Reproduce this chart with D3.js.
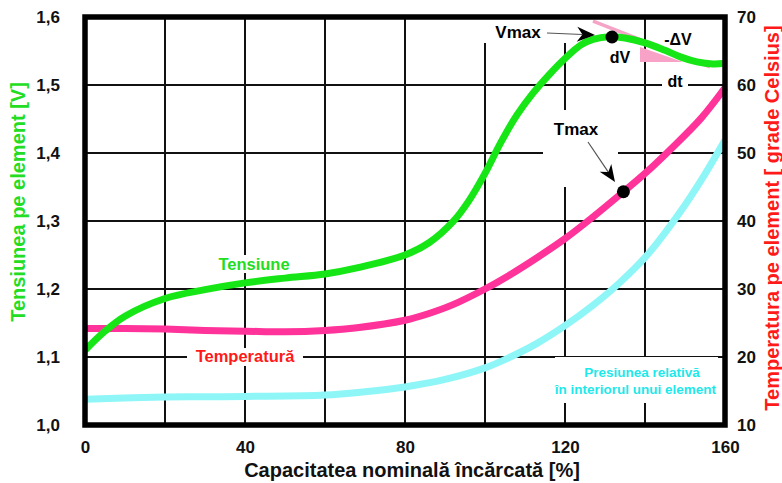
<!DOCTYPE html>
<html><head><meta charset="utf-8">
<script src="https://cdn.jsdelivr.net/npm/d3@7"></script>
<style>
body{margin:0;background:#fff}
svg{display:block}
text{font-family:"Liberation Sans",Arial,Helvetica,sans-serif;font-weight:bold}
</style>
</head><body>
<svg id="c" width="782" height="483"></svg>
<script>
// ---------------- data ----------------
const capV = [0,5,10,20,30,40,50,60,68,80,86,92,96,100,104,108,112,116,120,124,127,131,135,140,145,149,153,157,160];
const voltage = [1.110,1.138,1.160,1.186,1.199,1.209,1.216,1.222,1.231,1.250,1.268,1.299,1.330,1.370,1.416,1.456,1.488,1.515,1.539,1.559,1.567,1.571,1.569,1.562,1.551,1.541,1.534,1.531,1.532];

const capT = [0,10,20,30,40,50,60,68,80,86,92,100,106,113,120,127,134,140,147,154,160];
const temperature = [24.2,24.2,24.1,23.9,23.8,23.7,23.9,24.3,25.4,26.4,27.7,30.0,32.0,34.6,37.4,40.6,44.0,47.0,50.9,55.1,59.6];

const capP = [0,20,40,60,70,80,90,100,106,113,120,127,134,141,149,155,160];
const pressure = [13.8,14.1,14.2,14.4,14.9,15.6,16.7,18.4,19.9,22.0,24.6,27.6,31.1,35.3,41.5,46.9,51.9]; // relative units, drawn on right scale

const xTicks = [0,40,80,120,160];
const xGrid = [20,40,60,80,100,120,140];
const vTicks = [1.0,1.1,1.2,1.3,1.4,1.5,1.6];
const vGrid = [1.1,1.2,1.3,1.4,1.5];
const tTicks = [10,20,30,40,50,60,70];

const vmaxCap = 131.75;
const tmaxCap = 134.6;
// dV/dt tangent & triangle (capacity %, volts)
const tangentCap = [127,156.25];
const tangentV = [1.5941,1.5265];
const triCap = [138.75,138.75,149.5];
const triV = [1.5559,1.5338,1.5338];

// ---------------- setup ----------------
const svg = d3.select('#c');
const x = d3.scaleLinear([0,160],[85,725]);
const yV = d3.scaleLinear([1.0,1.6],[425,17]);
const yT = d3.scaleLinear([10,70],[425,17]);

const GREEN='#16e616', PINK='#ff3399', CYAN='#8ff6f8';

// grid
const grid = svg.append('g').attr('stroke','#111').attr('stroke-width',2);
grid.selectAll('.vg').data(xGrid).join('line')
  .attr('x1',d=>x(d)).attr('x2',d=>x(d)).attr('y1',yV(1.6)).attr('y2',yV(1.0));
grid.selectAll('.hg').data(vGrid).join('line')
  .attr('y1',d=>yV(d)).attr('y2',d=>yV(d)).attr('x1',x(0)).attr('x2',x(160));

// white masks behind annotations (capacity %, temperature-scale units)
const masks = [
  [98.75,128.75,70,66.18],
  [114.5,133.25,56.32,45.0],
  [144.25,150.75,61.47,59.0],
  [32.25,52.25,35.0,32.35],
  [25.5,54.5,21.32,18.68],
  [117.5,158.25,20.0,13.24]
];
svg.append('g').selectAll('rect').data(masks).join('rect')
  .attr('x',d=>x(d[0])).attr('width',d=>x(d[1])-x(d[0]))
  .attr('y',d=>yT(d[2])).attr('height',d=>yT(d[3])-yT(d[2]))
  .attr('fill','#fff');

// triangle
svg.append('path')
  .attr('d', d3.line()(triCap.map((c,i)=>[x(c),yV(triV[i])])) + 'Z')
  .attr('fill','#f8a2c8');

// tangent
svg.append('line')
  .attr('x1',x(tangentCap[0])).attr('y1',yV(tangentV[0]))
  .attr('x2',x(tangentCap[1])).attr('y2',yV(tangentV[1]))
  .attr('stroke','#f5a3c6').attr('stroke-width',3.5);

// curves
const curve = d3.curveCatmullRom.alpha(0.5);
const lineV = d3.line().x((d,i)=>x(capV[i])).y(d=>yV(d)).curve(curve);
const lineT = d3.line().x((d,i)=>x(capT[i])).y(d=>yT(d)).curve(curve);
const lineP = d3.line().x((d,i)=>x(capP[i])).y(d=>yT(d)).curve(curve);

svg.append('path').attr('d',lineP(pressure)).attr('fill','none').attr('stroke',CYAN).attr('stroke-width',7);
svg.append('path').attr('d',lineT(temperature)).attr('fill','none').attr('stroke',PINK).attr('stroke-width',7);
svg.append('path').attr('d',lineV(voltage)).attr('fill','none').attr('stroke',GREEN).attr('stroke-width',7);

// frame
svg.append('rect').attr('x',x(0)).attr('y',yV(1.6)).attr('width',x(160)-x(0)).attr('height',yV(1.0)-yV(1.6))
  .attr('fill','none').attr('stroke','#000').attr('stroke-width',5.5);

// dots
const interp = (xs,ys,c)=>{ for(let i=1;i<xs.length;i++){ if(c<=xs[i]){ const t=(c-xs[i-1])/(xs[i]-xs[i-1]); return ys[i-1]+t*(ys[i]-ys[i-1]); } } return ys[ys.length-1]; };
svg.append('circle').attr('cx',x(vmaxCap)).attr('cy',yV(interp(capV,voltage,vmaxCap))).attr('r',6.5).attr('fill','#000');
svg.append('circle').attr('cx',x(tmaxCap)).attr('cy',yT(interp(capT,temperature,tmaxCap))).attr('r',6.5).attr('fill','#000');

// arrows
function arrow(x1,y1,x2,y2,len,hw){
  const a = Math.atan2(y2-y1,x2-x1);
  const bx = x2 - Math.cos(a)*len*0.7, by = y2 - Math.sin(a)*len*0.7;
  svg.append('line').attr('x1',x1).attr('y1',y1).attr('x2',bx).attr('y2',by).attr('stroke','#555').attr('stroke-width',1.2);
  const pts = [[0,0],[-len,-hw],[-len*0.7,0],[-len,hw]];
  const rp = pts.map(([px,py])=>[x2+px*Math.cos(a)-py*Math.sin(a), y2+px*Math.sin(a)+py*Math.cos(a)]);
  svg.append('path').attr('d',d3.line()(rp)+'Z').attr('fill','#000');
}
arrow(x(115.5),yV(1.5765),x(127.5),yV(1.5735),18,7.5);
arrow(x(125.75),yT(51.62),x(132.5),yT(45.74),17,7);

// annotation texts
const txt = (s,cx,cy,fs,fill)=>svg.append('text').attr('x',cx).attr('y',cy).attr('text-anchor','middle')
  .attr('font-size',fs).attr('fill',fill).text(s);
txt('Vmax',x(108.25),yT(66.91),17,'#000');
txt('Tmax',x(122.75),yT(52.65),17,'#000');
txt('dV',x(133.75),yT(63.24),16,'#000');
txt('-\u0394V',x(148.25),yT(65.88),16,'#000');
txt('dt',x(147.5),yT(59.71),16,'#000');
txt('Tensiune',x(42.25),yT(32.79),16.5,'#22dd22');
txt('Temperatură',x(40),yT(19.26),16.5,'#ff1a1a');
txt('Presiunea relativă',x(139.25),yT(17.0),13.5,'#1ee8ea');
txt('în interiorul unui element',x(137.6),yT(14.6),13.5,'#1ee8ea');

// axes
const axL = svg.append('g').attr('transform',`translate(${x(0)},0)`)
  .call(d3.axisLeft(yV).tickValues(vTicks).tickSize(0).tickPadding(25).tickFormat(d=>d.toFixed(1).replace('.',',')));
const axR = svg.append('g').attr('transform',`translate(${x(160)},0)`)
  .call(d3.axisRight(yT).tickValues(tTicks).tickSize(0).tickPadding(12).tickFormat(d3.format('d')));
const axB = svg.append('g').attr('transform',`translate(0,${yV(1.0)})`)
  .call(d3.axisBottom(x).tickValues(xTicks).tickSize(0).tickPadding(16).tickFormat(d3.format('d')));
[axL,axR,axB].forEach(a=>{
  a.select('.domain').remove();
  a.selectAll('text').attr('font-size',17).attr('fill','#111')
   .style('font-family','"Liberation Sans",Arial,sans-serif').style('font-weight','bold');
});

// axis titles
svg.append('text').attr('x',412).attr('y',477).attr('text-anchor','middle').attr('font-size',20).attr('fill','#111')
  .text('Capacitatea nominală încărcată [%]');
svg.append('text').attr('transform','translate(18,202) rotate(-90)').attr('dy','0.35em').attr('text-anchor','middle')
  .attr('font-size',20).attr('fill','#22dd22').text('Tensiunea pe element [V]');
svg.append('text').attr('transform','translate(772,218) rotate(-90)').attr('dy','0.35em').attr('text-anchor','middle')
  .attr('font-size',20).attr('fill','#ff1a1a').text('Temperatura pe element [ grade Celsius]');
</script>
</body></html>
